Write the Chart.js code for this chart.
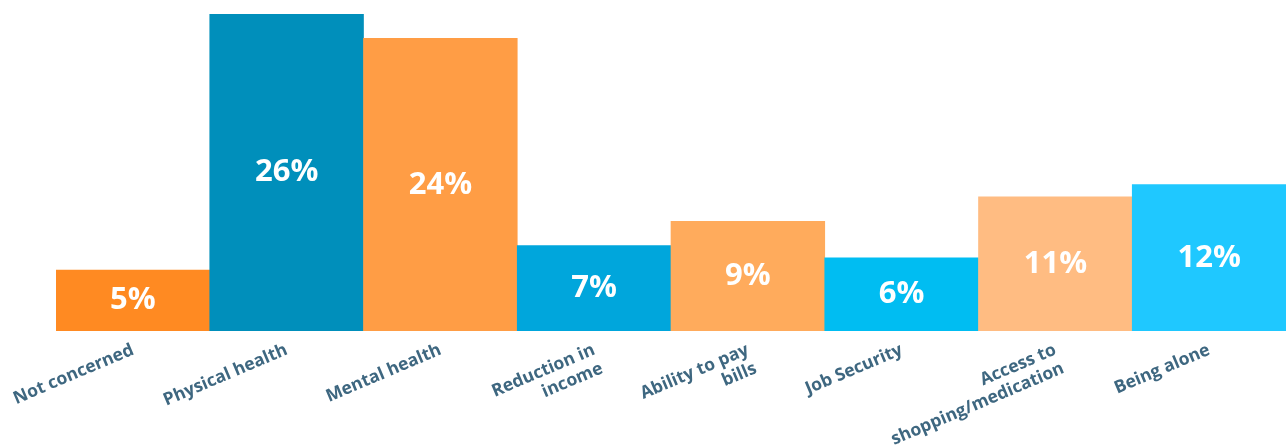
<!DOCTYPE html>
<html>
<head>
<meta charset="utf-8">
<script src="https://cdn.jsdelivr.net/npm/chart.js@4.4.1/dist/chart.umd.min.js"></script>
<style>
    html, body { margin: 0; padding: 0; background: #fff; }
    #wrap { width: 1286px; height: 447px; }
</style>
</head>
<body>
<div id="wrap"><canvas id="chart"></canvas></div>
<script>
// Data
const categories = [
    'Not concerned',
    'Physical health',
    'Mental health',
    ['Reduction in', 'income'],
    ['Ability to pay', 'bills'],
    'Job Security',
    ['Access to', 'shopping/medication'],
    'Being alone'
];
const shares = [5, 26, 24, 7, 9, 6, 11, 12];
const barColors = ['#ff8a22', '#008fbb', '#ff9d45', '#00a6dc', '#ffab5c', '#00bdf2', '#ffbc82', '#1fc8ff'];

// Draw the % inside each bar, centred
const valueLabels = {
    id: 'valueLabels',
    afterDatasetsDraw(chart) {
        const ctx = chart.ctx;
        const meta = chart.getDatasetMeta(0);
        ctx.save();
        ctx.fillStyle = '#ffffff';
        ctx.font = 'bold 31px "Open Sans"';
        ctx.textAlign = 'center';
        ctx.textBaseline = 'middle';
        meta.data.forEach((bar, i) => {
            const mid = (bar.y + bar.base) / 2;
            ctx.fillText(shares[i] + '%', bar.x, mid);
        });
        ctx.restore();
    }
};

new Chart(document.getElementById('chart'), {
    type: 'bar',
    data: {
        labels: categories,
        datasets: [{
            data: shares,
            backgroundColor: barColors,
            borderWidth: 0,
            categoryPercentage: 1,
            barPercentage: 1
        }]
    },
    options: {
        responsive: true,
        maintainAspectRatio: false,
        animation: false,
        layout: { padding: { left: 56, right: 0, top: 14, bottom: 0 } },
        plugins: {
            legend: { display: false },
            tooltip: { enabled: false }
        },
        scales: {
            y: {
                display: false,
                min: 0,
                max: 26
            },
            x: {
                grid: { display: false },
                border: { display: false },
                afterFit(scale) { scale.height = 116; },
                ticks: {
                    color: '#3e6780',
                    font: { family: '"Open Sans"', size: 17.5, weight: 'bold', lineHeight: 1.15 },
                    minRotation: 23,
                    maxRotation: 23,
                    padding: 1
                }
            }
        }
    },
    plugins: [valueLabels]
});
</script>
</body>
</html>
